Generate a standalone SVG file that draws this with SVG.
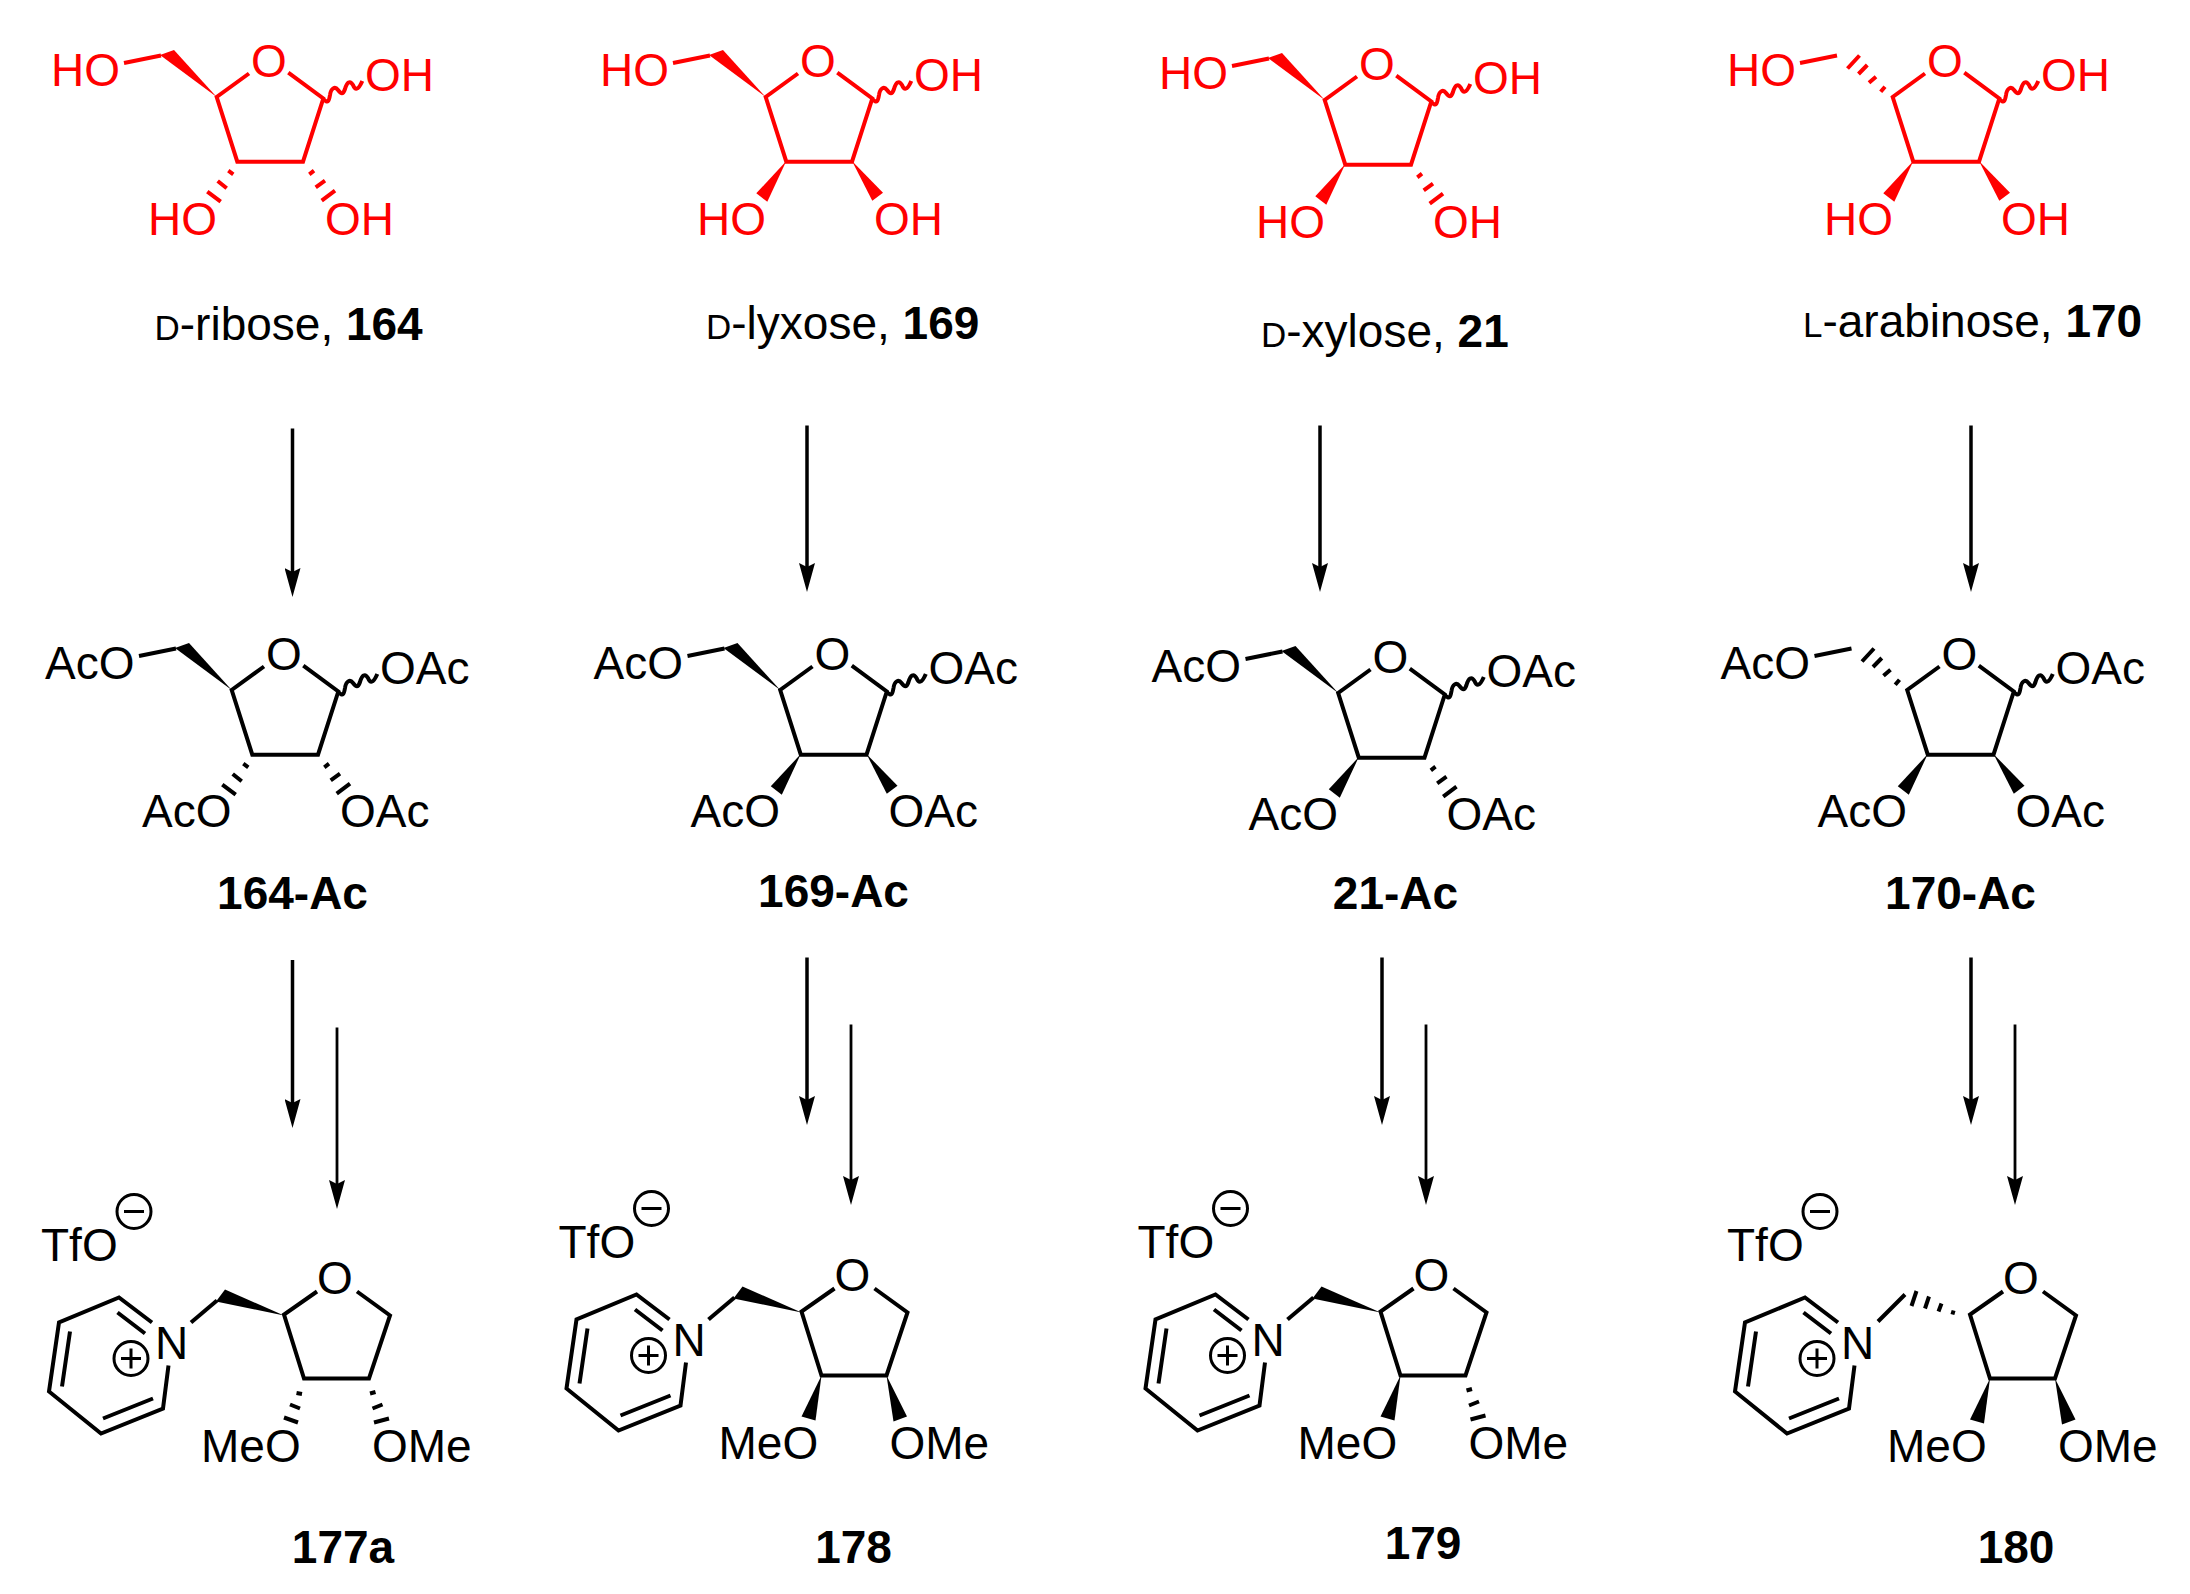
<svg xmlns="http://www.w3.org/2000/svg" xmlns:xlink="http://www.w3.org/1999/xlink" width="2190" height="1594" viewBox="0 0 2190 1594">
<style>
text{font-family:"Liberation Sans",Arial,sans-serif;stroke:none}
.a{font-size:46px;fill:currentColor}
.n{font-size:46px;fill:#000}
.b{font-size:46px;fill:#000;font-weight:700}
.sc{font-size:35px}
.l{fill:none;stroke:currentColor;stroke-width:4}
.w{fill:currentColor;stroke:none}
.red{color:#f00}
.blk{color:#000}
.arrow{stroke:#000;fill:none}
</style>
<defs>
<marker id="head" markerUnits="userSpaceOnUse" viewBox="0 0 16 30" markerWidth="16" markerHeight="30" refX="8" refY="4" orient="0"><path d="M0,0L8,4L16,0L8,29Z" fill="#000"/></marker>
<g id="furanose"><path class="l" d="M249,73.5L216.7,97L237.3,161.7H303L323.3,98.5L288.3,72.7M124,63L161,55.5M323.5,99C328,104 329,101 330,95C331,88 335,86 338,90C341,94 343,95 345,89C347,82 350,80 353,85C355,90 358,91 362.3,81"/></g>
<path id="s5w" class="w" d="M216.7,97L160,55L174,50Z"/>
<path id="s5h" class="l" d="M204.7,91.7L209,86.7M193,82.7L200,76.7M182.5,74L191.3,65M171.5,68.5L183.5,55.5"/>
<path id="s3w" class="w" d="M237.3,161L207.3,193.3L218.3,201.7Z"/>
<path id="s3h" class="l" d="M228.3,170.7L233.3,174.3M217.7,181L226.7,188.3M207.3,191.7L220.7,201.7"/>
<path id="s2w" class="w" d="M303,161L334,192.7L323.3,200.7Z"/>
<path id="s2h" class="l" d="M309.3,174.3L314,170.7M315.7,187.3L325,180.7M321.7,200.7L335,190.7"/>
<g id="pyridinium"><path class="l" d="M152,1324L119,1299L59,1324L49,1393L101,1435L163,1410L168.5,1367M117.5,1314L145,1335M70,1333L62,1388M103,1420L153,1400"/><circle class="l" cx="131" cy="1360" r="17" style="stroke-width:3"/><path class="l" d="M121,1360H141M131,1350V1370" style="stroke-width:3"/><circle class="l" cx="134" cy="1213" r="17" style="stroke-width:3"/><path class="l" d="M124,1213H144" style="stroke-width:3"/></g>
<path id="thf" class="l" d="M317,1293L284,1316L304,1380H369L390,1317L357,1293"/>
<path id="p5w" class="w" d="M284,1317L216,1303L225,1291Z"/>
<path id="p5wb" class="l" d="M191,1324L217,1302"/>
<path id="p5h" class="l" d="M192,1323L219,1296M266.4,1316L267.6,1312M252.5,1313L255.5,1305M239,1310L243,1298M225.5,1307.5L230.5,1292.5"/>
<path id="p3w" class="w" d="M304,1380L284,1421L298,1425Z"/>
<path id="p3h" class="l" d="M296.5,1394.5L302,1395.5M290,1406L300,1410M284,1419L298,1424"/>
<path id="p2w" class="w" d="M369,1380L376,1426L389.5,1421Z"/>
<path id="p2h" class="l" d="M370,1395L375.5,1393.5M372.5,1410L382.5,1406M374,1424L389,1420"/>
</defs>

<g id="connectors">
<path class="arrow" stroke-width="3.5" marker-end="url(#head)" d="M292.5,428.5V572"/>
<path class="arrow" stroke-width="3.5" marker-end="url(#head)" d="M807,425.5V567"/>
<path class="arrow" stroke-width="3.5" marker-end="url(#head)" d="M1320,425.5V567"/>
<path class="arrow" stroke-width="3.5" marker-end="url(#head)" d="M1971,425.5V567"/>
<path class="arrow" stroke-width="3.5" marker-end="url(#head)" d="M292.5,960V1103"/>
<path class="arrow" stroke-width="3.5" marker-end="url(#head)" d="M807,957.5V1100"/>
<path class="arrow" stroke-width="3.5" marker-end="url(#head)" d="M1382,957.5V1100"/>
<path class="arrow" stroke-width="3.5" marker-end="url(#head)" d="M1971,957.5V1100"/>
<path class="arrow" stroke-width="2.8" marker-end="url(#head)" d="M337,1027.5V1184"/>
<path class="arrow" stroke-width="2.8" marker-end="url(#head)" d="M851,1024.5V1180"/>
<path class="arrow" stroke-width="2.8" marker-end="url(#head)" d="M1426,1024.5V1180"/>
<path class="arrow" stroke-width="2.8" marker-end="url(#head)" d="M2015,1024.5V1180"/>
</g>

<g id="ribose-164" class="red">
<use href="#furanose"/><use href="#s5w"/><use href="#s3h"/><use href="#s2h"/>
<text class="a" x="51" y="86">HO</text><text class="a" x="251" y="76.5">O</text><text class="a" x="365" y="91">OH</text><text class="a" x="148" y="235">HO</text><text class="a" x="325" y="235">OH</text>
</g>
<g id="lyxose-169" class="red" transform="translate(549,0)">
<use href="#furanose"/><use href="#s5w"/><use href="#s3w"/><use href="#s2w"/>
<text class="a" x="51" y="86">HO</text><text class="a" x="251" y="76.5">O</text><text class="a" x="365" y="91">OH</text><text class="a" x="148" y="235">HO</text><text class="a" x="325" y="235">OH</text>
</g>
<g id="xylose-21" class="red" transform="translate(1108,3)">
<use href="#furanose"/><use href="#s5w"/><use href="#s3w"/><use href="#s2h"/>
<text class="a" x="51" y="86">HO</text><text class="a" x="251" y="76.5">O</text><text class="a" x="365" y="91">OH</text><text class="a" x="148" y="235">HO</text><text class="a" x="325" y="235">OH</text>
</g>
<g id="arabinose-170" class="red" transform="translate(1676,0)">
<use href="#furanose"/><use href="#s5h"/><use href="#s3w"/><use href="#s2w"/>
<text class="a" x="51" y="86">HO</text><text class="a" x="251" y="76.5">O</text><text class="a" x="365" y="91">OH</text><text class="a" x="148" y="235">HO</text><text class="a" x="325" y="235">OH</text>
</g>

<g id="name-164"><text class="n" x="154.5" y="340"><tspan class="sc">D</tspan>-ribose, <tspan class="b">164</tspan></text></g>
<g id="name-169"><text class="n" x="706" y="339"><tspan class="sc">D</tspan>-lyxose, <tspan class="b">169</tspan></text></g>
<g id="name-21"><text class="n" x="1261" y="347"><tspan class="sc">D</tspan>-xylose, <tspan class="b">21</tspan></text></g>
<g id="name-170"><text class="n" x="1803" y="337"><tspan class="sc">L</tspan>-arabinose, <tspan class="b">170</tspan></text></g>

<g id="ac-164" class="blk" transform="translate(15,593)">
<use href="#furanose"/><use href="#s5w"/><use href="#s3h"/><use href="#s2h"/>
<text class="a" x="30" y="86">AcO</text><text class="a" x="251" y="76.5">O</text><text class="a" x="365" y="91">OAc</text><text class="a" x="127" y="234">AcO</text><text class="a" x="325" y="234">OAc</text>
</g>
<g id="ac-169" class="blk" transform="translate(563.5,593)">
<use href="#furanose"/><use href="#s5w"/><use href="#s3w"/><use href="#s2w"/>
<text class="a" x="30" y="86">AcO</text><text class="a" x="251" y="76.5">O</text><text class="a" x="365" y="91">OAc</text><text class="a" x="127" y="234">AcO</text><text class="a" x="325" y="234">OAc</text>
</g>
<g id="ac-21" class="blk" transform="translate(1121.5,596)">
<use href="#furanose"/><use href="#s5w"/><use href="#s3w"/><use href="#s2h"/>
<text class="a" x="30" y="86">AcO</text><text class="a" x="251" y="76.5">O</text><text class="a" x="365" y="91">OAc</text><text class="a" x="127" y="234">AcO</text><text class="a" x="325" y="234">OAc</text>
</g>
<g id="ac-170" class="blk" transform="translate(1690.5,593)">
<use href="#furanose"/><use href="#s5h"/><use href="#s3w"/><use href="#s2w"/>
<text class="a" x="30" y="86">AcO</text><text class="a" x="251" y="76.5">O</text><text class="a" x="365" y="91">OAc</text><text class="a" x="127" y="234">AcO</text><text class="a" x="325" y="234">OAc</text>
</g>

<g id="label-164-Ac"><text class="b" x="292.5" y="909" text-anchor="middle">164-Ac</text></g>
<g id="label-169-Ac"><text class="b" x="833.5" y="906.5" text-anchor="middle">169-Ac</text></g>
<g id="label-21-Ac"><text class="b" x="1395.5" y="909" text-anchor="middle">21-Ac</text></g>
<g id="label-170-Ac"><text class="b" x="1960.5" y="909" text-anchor="middle">170-Ac</text></g>

<g id="salt-177a" class="blk" transform="translate(0,-1.5)">
<use href="#pyridinium"/><use href="#thf"/><use href="#p5wb"/><use href="#p5w"/><use href="#p3h"/><use href="#p2h"/>
<text class="a" x="41" y="1262.5">TfO</text><text class="a" x="155" y="1360">N</text><text class="a" x="317" y="1295">O</text><text class="a" x="201" y="1463">MeO</text><text class="a" x="372" y="1463">OMe</text>
</g>
<g id="salt-178" class="blk" transform="translate(517.5,-4.5)">
<use href="#pyridinium"/><use href="#thf"/><use href="#p5wb"/><use href="#p5w"/><use href="#p3w"/><use href="#p2w"/>
<text class="a" x="41" y="1262.5">TfO</text><text class="a" x="155" y="1360">N</text><text class="a" x="317" y="1295">O</text><text class="a" x="201" y="1463">MeO</text><text class="a" x="372" y="1463">OMe</text>
</g>
<g id="salt-179" class="blk" transform="translate(1096.5,-4.5)">
<use href="#pyridinium"/><use href="#thf"/><use href="#p5wb"/><use href="#p5w"/><use href="#p3w"/><use href="#p2h"/>
<text class="a" x="41" y="1262.5">TfO</text><text class="a" x="155" y="1360">N</text><text class="a" x="317" y="1295">O</text><text class="a" x="201" y="1463">MeO</text><text class="a" x="372" y="1463">OMe</text>
</g>
<g id="salt-180" class="blk" transform="translate(1686,-1.5)">
<use href="#pyridinium"/><use href="#thf"/><use href="#p5h"/><use href="#p3w"/><use href="#p2w"/>
<text class="a" x="41" y="1262.5">TfO</text><text class="a" x="155" y="1360">N</text><text class="a" x="317" y="1295">O</text><text class="a" x="201" y="1463">MeO</text><text class="a" x="372" y="1463">OMe</text>
</g>

<g id="label-177a"><text class="b" x="343" y="1562.5" text-anchor="middle">177a</text></g>
<g id="label-178"><text class="b" x="853.5" y="1562.5" text-anchor="middle">178</text></g>
<g id="label-179"><text class="b" x="1423" y="1558.5" text-anchor="middle">179</text></g>
<g id="label-180"><text class="b" x="2016" y="1562.5" text-anchor="middle">180</text></g>
</svg>
